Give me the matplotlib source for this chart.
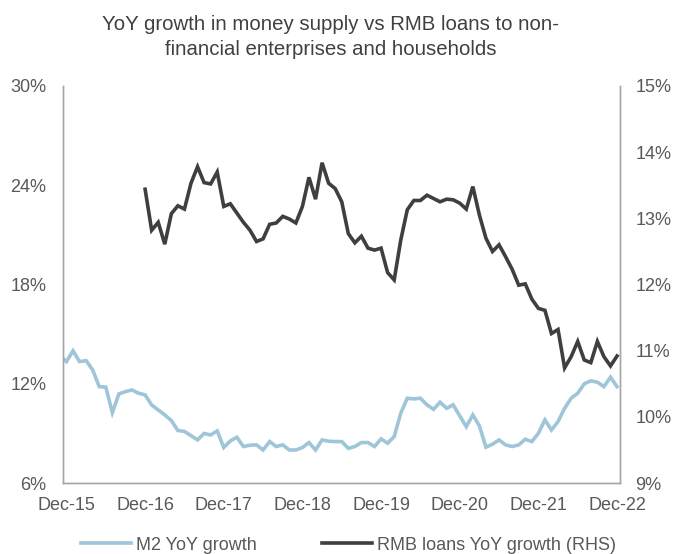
import numpy as np
import pandas as pd
import matplotlib
matplotlib.use("Agg")
import matplotlib.pyplot as plt
from matplotlib.ticker import FuncFormatter

plt.rcParams['font.family'] = ['Liberation Sans', 'DejaVu Sans']

# monthly M2 YoY growth (%), Nov-15 .. Dec-22
m2_months = pd.period_range("2015-11", "2022-12", freq="M")
m2_yoy = [13.7, 13.34, 13.99, 13.34, 13.4, 12.84, 11.83, 11.8, 10.26, 11.39, 11.53, 11.63,
          11.43, 11.33, 10.72, 10.42, 10.12, 9.78, 9.18, 9.12, 8.87, 8.61, 9.0, 8.91,
          9.15, 8.15, 8.55, 8.77, 8.21, 8.29, 8.31, 8.0, 8.51, 8.21, 8.31, 8.0,
          8.0, 8.15, 8.45, 8.0, 8.61, 8.53, 8.51, 8.51, 8.1, 8.21, 8.45, 8.45,
          8.21, 8.67, 8.41, 8.81, 10.22, 11.13, 11.09, 11.13, 10.73, 10.46, 10.89, 10.52,
          10.73, 10.06, 9.41, 10.12, 9.46, 8.17, 8.35, 8.61, 8.31, 8.21, 8.31, 8.65,
          8.51, 9.01, 9.82, 9.21, 9.72, 10.52, 11.13, 11.43, 12.0, 12.18, 12.1, 11.83,
          12.4, 11.83]

# RMB loans to non-financial enterprises and households, YoY (%), Dec-16 .. Dec-22
loan_months = pd.period_range("2016-12", "2022-12", freq="M")
loan_yoy = [13.44, 12.82, 12.94, 12.61, 13.07, 13.19, 13.14, 13.53, 13.78, 13.54, 13.52, 13.70,
            13.18, 13.22, 13.08, 12.94, 12.82, 12.65, 12.69, 12.91, 12.93, 13.03, 12.99, 12.93,
            13.18, 13.62, 13.29, 13.84, 13.53, 13.45, 13.25, 12.77, 12.63, 12.73, 12.55, 12.52,
            12.55, 12.18, 12.07, 12.67, 13.13, 13.27, 13.27, 13.35, 13.30, 13.25, 13.29, 13.28,
            13.23, 13.14, 13.48, 13.05, 12.70, 12.50, 12.60, 12.42, 12.23, 11.99, 12.01, 11.78,
            11.64, 11.61, 11.26, 11.32, 10.74, 10.91, 11.14, 10.86, 10.82, 11.14, 10.91, 10.77,
            10.92]

tick_labels = ["Dec-15", "Dec-16", "Dec-17", "Dec-18", "Dec-19", "Dec-20", "Dec-21", "Dec-22"]
left_ticks = [6, 12, 18, 24, 30]
right_ticks = [9, 10, 11, 12, 13, 14, 15]
title_lines = ["YoY growth in money supply vs RMB loans to non-",
               "financial enterprises and households"]

base = pd.Period("2015-12", freq="M")
def month_index(months):
    return np.array([(m - base).n for m in months])

x_m2 = month_index(m2_months)
x_loan = month_index(loan_months)

text_col = "#595959"
spine_col = "#a6a6a6"

fig = plt.figure(figsize=(6.75, 5.54), dpi=100)
ax = fig.add_axes([0.0933, 0.128, 0.8252, 0.7168])
ax2 = ax.twinx()

l1, = ax.plot(x_m2, m2_yoy, color="#9fc6d8", lw=2.6, solid_joinstyle="miter",
              label="M2 YoY growth")
l2, = ax2.plot(x_loan, loan_yoy, color="#3f3f3f", lw=2.6, solid_joinstyle="miter",
               label="RMB loans YoY growth (RHS)")

ax.set_xlim(-0.53, 84.45)
ax.set_ylim(6, 30)
ax2.set_ylim(9, 15)
ax.set_yticks(left_ticks)
ax2.set_yticks(right_ticks)
pct = FuncFormatter(lambda v, _: f"{v:.0f}%")
ax.yaxis.set_major_formatter(pct)
ax2.yaxis.set_major_formatter(pct)
ax.set_xticks(np.arange(0, 85, 12))
ax.set_xticklabels(tick_labels)

for a in (ax, ax2):
    a.tick_params(length=0, labelsize=13, colors=text_col)
    a.spines['top'].set_visible(False)
    for s in ('left', 'right', 'bottom'):
        a.spines[s].set_color(spine_col)
        a.spines[s].set_linewidth(1.0)
ax.tick_params(axis='y', pad=12)
ax.tick_params(axis='x', pad=10)
ax2.tick_params(axis='y', pad=11)

# two-line title, each line placed on its own
for ypos, line in zip([0.955, 0.91], title_lines):
    fig.text(0.49, ypos, line, ha="center", va="center", fontsize=14.7, color="#404040")

fig.legend(handles=[l1, l2], loc="center", bbox_to_anchor=(0.516, 0.016), ncol=2,
           frameon=False, fontsize=13, handlelength=2.77, handletextpad=0.28,
           columnspacing=3.6, labelcolor=text_col)

fig.savefig("out.png", dpi=100)
